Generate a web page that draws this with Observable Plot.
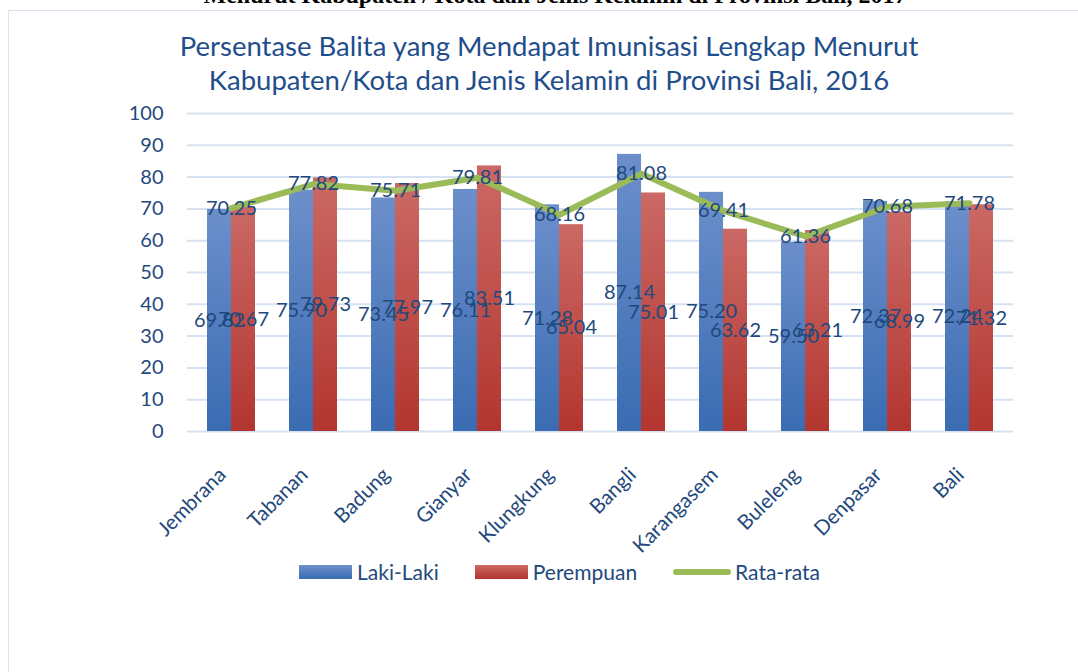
<!DOCTYPE html>
<html>
<head>
<meta charset="utf-8">
<script src="https://cdn.jsdelivr.net/npm/d3@7"></script>
<script src="https://cdn.jsdelivr.net/npm/@observablehq/plot@0.6"></script>
<style>
  html, body { margin: 0; padding: 0; background: #fff; width: 1078px; height: 672px; overflow: hidden; }
  body { position: relative; font-family: Lato, sans-serif; color: #1F497D; }
  #toptext { position: absolute; left: 0; width: 1110px; top: -17px; text-align: center; font-family: "Liberation Serif", serif; font-weight: bold; font-size: 24px; line-height: 24px; color: #000; white-space: nowrap; }
  #frame { position: absolute; left: 8px; top: 10px; width: 1200px; height: 800px; border: 1.5px solid #D9E2F0; box-sizing: border-box; }
  #title { position: absolute; left: 0; width: 1098px; top: 29px; text-align: center; font-size: 27.5px; line-height: 34px; color: #1F4E8C; }
  #chart { position: absolute; left: 0; top: 100px; }
  #legend { position: absolute; left: 0; width: 1119px; top: 561px; display: flex; justify-content: center; align-items: center; font-size: 21px; line-height: 22px; }
  .item { display: flex; align-items: center; margin: 0 18px; }
  .sw { width: 53px; height: 14px; margin-right: 5px; }
  .ln { width: 58px; height: 6px; border-radius: 3px; margin-right: 4px; }
</style>
</head>
<body>
<div id="toptext">Menurut Kabupaten / Kota dan Jenis Kelamin di Provinsi Bali, 2017</div>
<div id="frame"></div>
<div id="title">Persentase Balita yang Mendapat Imunisasi Lengkap Menurut<br>Kabupaten/Kota dan Jenis Kelamin di Provinsi Bali, 2016</div>
<div id="chart"></div>
<div id="legend"></div>
<script>
const categories = ["Jembrana", "Tabanan", "Badung", "Gianyar", "Klungkung", "Bangli", "Karangasem", "Buleleng", "Denpasar", "Bali"];
const lakiLaki   = [69.82, 75.90, 73.45, 76.11, 71.28, 87.14, 75.20, 59.50, 72.37, 72.24];
const perempuan  = [70.67, 79.73, 77.97, 83.51, 65.04, 75.01, 63.62, 63.21, 68.99, 71.32];
const rataRata   = [70.25, 77.82, 75.71, 79.81, 68.16, 81.08, 69.41, 61.36, 70.68, 71.78];
const seriesNames = ["Laki-Laki", "Perempuan", "Rata-rata"];
const yTicks = [0, 10, 20, 30, 40, 50, 60, 70, 80, 90, 100];

const rows = categories.map((c, i) => ({cat: c, laki: lakiLaki[i], per: perempuan[i], avg: rataRata[i]}));

const W = 1078, mL = 187, mR = 65;
const step = (W - mL - mR) / categories.length;
const padIn = 0.42;
const half = step * (1 - padIn) / 2;
const labelColor = "#1F497D";

const plot = Plot.plot({
  width: W,
  height: 450,
  marginLeft: mL,
  marginRight: mR,
  marginTop: 13,
  marginBottom: 119,
  x: {domain: categories, paddingInner: padIn, paddingOuter: padIn / 2, label: null},
  y: {domain: [0, 100], label: null},
  style: {fontFamily: "Lato, sans-serif", fontSize: "20px", color: labelColor, background: "transparent", overflow: "visible"},
  marks: [
    Plot.ruleY(yTicks, {stroke: "#D6E1F2", strokeWidth: 2}),
    Plot.barY(rows, {x: "cat", y: "laki", fill: "url(#gBlue)", insetRight: half}),
    Plot.barY(rows, {x: "cat", y: "per", fill: "url(#gRed)", insetLeft: half}),
    Plot.line(rows, {x: "cat", y: "avg", stroke: "#9BBB59", strokeWidth: 6, strokeLinecap: "round", strokeLinejoin: "round"}),
    Plot.text(rows, {x: "cat", y: d => d.laki / 2, text: d => d.laki.toFixed(2), dx: -half / 2, fill: labelColor, fontSize: 20}),
    Plot.text(rows, {x: "cat", y: d => d.per / 2, text: d => d.per.toFixed(2), dx: half / 2, fill: labelColor, fontSize: 20}),
    Plot.text(rows, {x: "cat", y: "avg", text: d => d.avg.toFixed(2), fill: labelColor, fontSize: 20}),
    Plot.axisY({ticks: yTicks, tickSize: 0, tickPadding: 24, fontSize: 20, fill: labelColor}),
    Plot.axisX({tickSize: 0, tickRotate: -45, tickPadding: 40, dx: -9, fontSize: 20.5, fill: labelColor})
  ]
});

const defs = d3.select(plot).insert("defs", ":first-child");
function grad(id, top, bottom) {
  const g = defs.append("linearGradient").attr("id", id).attr("x1", 0).attr("y1", 0).attr("x2", 0).attr("y2", 1);
  g.append("stop").attr("offset", "0%").attr("stop-color", top);
  g.append("stop").attr("offset", "100%").attr("stop-color", bottom);
}
grad("gBlue", "#6C8FCB", "#3A6CB2");
grad("gRed", "#CB6965", "#B3352F");
document.getElementById("chart").appendChild(plot);

const legend = document.getElementById("legend");
const swatches = [
  {cls: "sw", bg: "linear-gradient(#6C8FCB, #3A6CB2)"},
  {cls: "sw", bg: "linear-gradient(#CB6965, #B3352F)"},
  {cls: "ln", bg: "#9BBB59"}
];
seriesNames.forEach((name, i) => {
  const item = document.createElement("div");
  item.className = "item";
  const sw = document.createElement("div");
  sw.className = swatches[i].cls;
  sw.style.background = swatches[i].bg;
  const t = document.createElement("span");
  t.textContent = name;
  item.appendChild(sw);
  item.appendChild(t);
  legend.appendChild(item);
});
</script>
</body>
</html>
